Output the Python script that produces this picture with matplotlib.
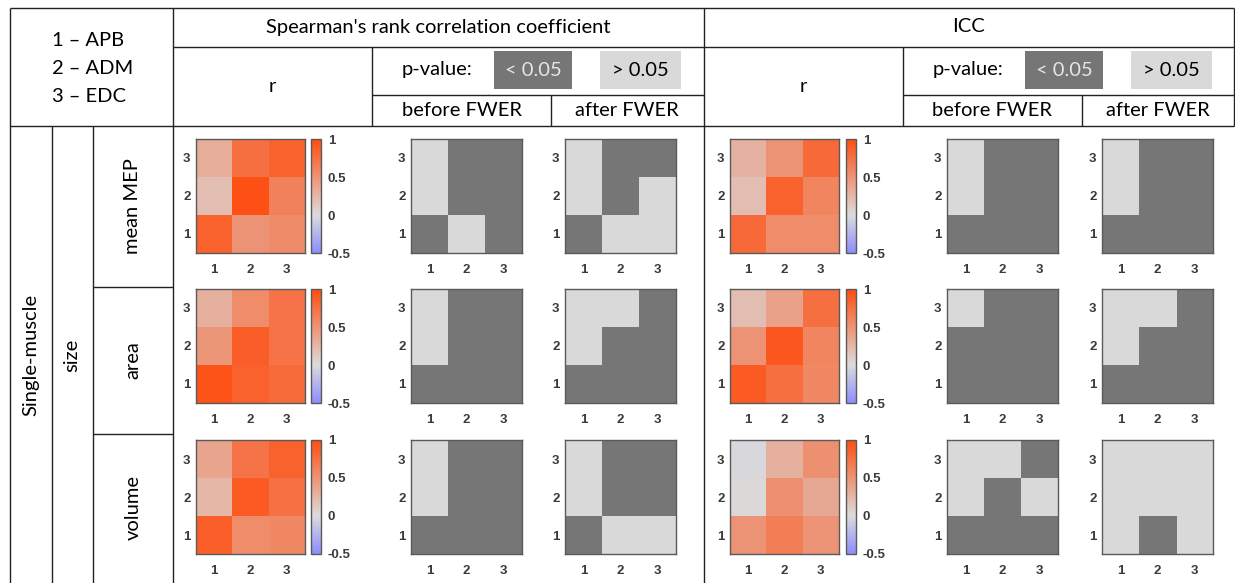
import numpy as np
import matplotlib
matplotlib.use("Agg")
from matplotlib import pyplot as plt
from matplotlib.colors import LinearSegmentedColormap, ListedColormap
from matplotlib.patches import Rectangle

# muscle index 1..3 on both axes, rows listed bottom (y=1) to top (y=3)
muscles = ["1", "2", "3"]
muscle_names = ["1 \u2013 APB", "2 \u2013 ADM", "3 \u2013 EDC"]
measures = ["mean MEP", "area", "volume"]

# Spearman r
sp_r_mean = [[0.85, 0.50, 0.56], [0.20, 0.97, 0.63], [0.32, 0.75, 0.85]]
sp_r_area = [[0.95, 0.85, 0.78], [0.48, 0.88, 0.72], [0.30, 0.55, 0.72]]
sp_r_vol = [[0.86, 0.55, 0.58], [0.25, 0.90, 0.74], [0.38, 0.72, 0.85]]
# ICC r
icc_r_mean = [[0.80, 0.55, 0.55], [0.20, 0.85, 0.60], [0.28, 0.50, 0.80]]
icc_r_area = [[0.90, 0.75, 0.58], [0.50, 0.92, 0.60], [0.20, 0.40, 0.75]]
icc_r_vol = [[0.50, 0.65, 0.50], [0.02, 0.52, 0.35], [-0.02, 0.30, 0.52]]

# significance (1 = p < 0.05)
sp_before_mean = [[1, 0, 1], [0, 1, 1], [0, 1, 1]]
sp_after_mean = [[1, 0, 0], [0, 1, 0], [0, 1, 1]]
sp_before_area = [[1, 1, 1], [0, 1, 1], [0, 1, 1]]
sp_after_area = [[1, 1, 1], [0, 1, 1], [0, 0, 1]]
sp_before_vol = [[1, 1, 1], [0, 1, 1], [0, 1, 1]]
sp_after_vol = [[1, 0, 0], [0, 1, 1], [0, 1, 1]]
icc_before_mean = [[1, 1, 1], [0, 1, 1], [0, 1, 1]]
icc_after_mean = [[1, 1, 1], [0, 1, 1], [0, 1, 1]]
icc_before_area = [[1, 1, 1], [1, 1, 1], [0, 1, 1]]
icc_after_area = [[1, 1, 1], [0, 1, 1], [0, 0, 1]]
icc_before_vol = [[1, 1, 1], [0, 1, 0], [0, 0, 1]]
icc_after_vol = [[0, 1, 0], [0, 0, 0], [0, 0, 0]]

cbar_ticks = [-0.5, 0, 0.5, 1]
cbar_labels = ["-0.5", "0", "0.5", "1"]

W, H = 1235, 583
TXT = "Lato"
TICK = "Liberation Sans"
DARK = "#767676"
LIGHT = "#d9d9d9"

rmap = LinearSegmentedColormap.from_list(
    "r", [(0.0, (0.55, 0.55, 1.0)), (1 / 3, (0.86, 0.86, 0.86)), (1.0, (1.0, 0.30, 0.06))])
pmap = ListedColormap([LIGHT, DARK])

fig = plt.figure(figsize=(W / 100, H / 100), dpi=100)

# table grid and labels, drawn in pixel coordinates
ax0 = fig.add_axes([0, 0, 1, 1])
ax0.set_xlim(0, W)
ax0.set_ylim(H, 0)
ax0.axis("off")


def hline(y, x0, x1):
    ax0.plot([x0, x1], [y, y], color="#222222", lw=1.0, solid_capstyle="butt")


def vline(x, y0, y1):
    ax0.plot([x, x], [y0, y1], color="#222222", lw=1.0, solid_capstyle="butt")


hline(8, 10, 1234)
hline(47, 173, 1234)
hline(95, 372, 704)
hline(95, 903, 1234)
hline(126, 10, 1234)
hline(287, 93, 173)
hline(434, 93, 173)
vline(10, 8, H)
vline(52, 126, H)
vline(93, 126, H)
vline(173, 8, H)
vline(704, 8, H)
vline(1234, 8, 126)
vline(372, 47, 126)
vline(551, 95, 126)
vline(903, 47, 126)
vline(1082, 95, 126)

fs = 14.5
for i, name in enumerate(muscle_names):
    ax0.text(52, 40 + 28.5 * i, name, fontsize=fs, family=TXT, ha="left", va="center")

for x0, x1, title in [(173, 704, "Spearman's rank correlation coefficient"), (704, 1234, "ICC")]:
    ax0.text((x0 + x1) / 2, 27, title, fontsize=fs, family=TXT, ha="center", va="center")

for off in [0, 531]:
    ax0.text(272 + off, 87, "r", fontsize=fs, family=TXT, ha="center", va="center")
    ax0.text(437 + off, 70, "p-value:", fontsize=fs, family=TXT, ha="center", va="center")
    ax0.add_patch(Rectangle((494 + off, 51), 78, 38, color=DARK, lw=0))
    ax0.add_patch(Rectangle((600 + off, 51), 81, 38, color=LIGHT, lw=0))
    ax0.text(533 + off, 70, "< 0.05", fontsize=fs, family=TXT, color="#e6e6e6", ha="center", va="center")
    ax0.text(640 + off, 70, "> 0.05", fontsize=fs, family=TXT, color="black", ha="center", va="center")
for cx, label in [(462, "before FWER"), (627, "after FWER"), (992, "before FWER"), (1158, "after FWER")]:
    ax0.text(cx, 110, label, fontsize=fs, family=TXT, ha="center", va="center")

ax0.text(31, 355, "Single-muscle", fontsize=fs, family=TXT, rotation=90, ha="center", va="center")
ax0.text(72, 355, "size", fontsize=fs, family=TXT, rotation=90, ha="center", va="center")
for yc, m in zip([206, 360, 508], measures):
    ax0.text(133, yc, m, fontsize=fs, family=TXT, rotation=90, ha="center", va="center")

r_data = [[sp_r_mean, icc_r_mean], [sp_r_area, icc_r_area], [sp_r_vol, icc_r_vol]]
p_data = [
    [sp_before_mean, sp_after_mean, icc_before_mean, icc_after_mean],
    [sp_before_area, sp_after_area, icc_before_area, icc_after_area],
    [sp_before_vol, sp_after_vol, icc_before_vol, icc_after_vol],
]

row_top = [139, 289, 440]
r_left = [196, 730]
cb_left = [311, 846]
p_left = [411, 565, 947, 1102]
cell_w, cell_h = 109, 114


def px_axes(x0, y0, w, h):
    return fig.add_axes([x0 / W, 1 - (y0 + h) / H, w / W, h / H])


def style(ax):
    ax.set_xticks([1, 2, 3], muscles)
    ax.set_yticks([1, 2, 3], muscles)
    ax.tick_params(length=0, pad=4, labelsize=9.5, labelcolor="#3a3a3a")
    ax.tick_params(axis="x", pad=8)
    for lab in ax.get_xticklabels() + ax.get_yticklabels():
        lab.set_fontfamily(TICK)
        lab.set_fontweight("bold")
    for s in ax.spines.values():
        s.set_color("#5a5a5a")
        s.set_linewidth(1.0)


for i in range(3):
    y0 = row_top[i]
    for j in range(2):
        ax = px_axes(r_left[j], y0, cell_w, cell_h)
        im = ax.imshow(np.array(r_data[i][j]), cmap=rmap, vmin=-0.5, vmax=1, origin="lower",
                       extent=[0.5, 3.5, 0.5, 3.5], aspect="auto")
        style(ax)
        cax = px_axes(cb_left[j], y0, 10, cell_h)
        cb = fig.colorbar(im, cax=cax, ticks=cbar_ticks)
        cb.set_ticklabels(cbar_labels)
        cb.ax.tick_params(length=0, pad=5, labelsize=9.5, labelcolor="#3a3a3a")
        for lab in cb.ax.get_yticklabels():
            lab.set_fontfamily(TICK)
            lab.set_fontweight("bold")
        cb.outline.set_edgecolor("#5a5a5a")
        cb.outline.set_linewidth(1.0)
    for k in range(4):
        ax = px_axes(p_left[k], y0, cell_w + 2, cell_h)
        ax.imshow(np.array(p_data[i][k]), cmap=pmap, vmin=0, vmax=1, origin="lower",
                  extent=[0.5, 3.5, 0.5, 3.5], aspect="auto")
        style(ax)

fig.savefig("out.png", dpi=100)
